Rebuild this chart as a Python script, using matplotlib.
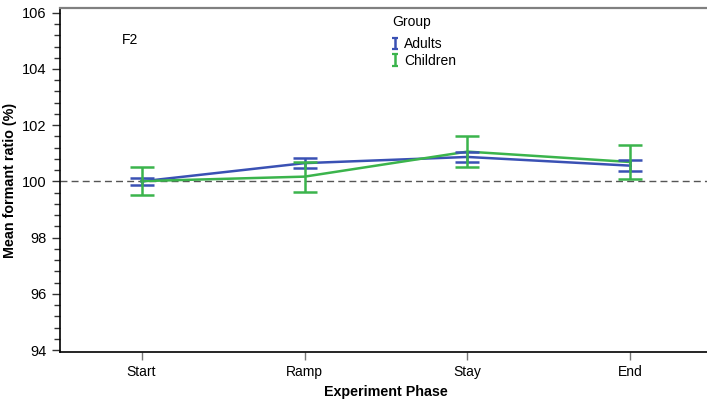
import matplotlib.pyplot as plt
import numpy as np
from matplotlib.ticker import MultipleLocator
from matplotlib.legend_handler import HandlerErrorbar

plt.rcParams['font.family'] = ['Liberation Sans', 'DejaVu Sans']

phases = ['Start', 'Ramp', 'Stay', 'End']
adults_mean = [100.00, 100.65, 100.87, 100.56]
adults_lo = [99.88, 100.48, 100.70, 100.37]
adults_hi = [100.13, 100.83, 101.05, 100.76]
children_mean = [100.01, 100.17, 101.06, 100.69]
children_lo = [99.50, 99.64, 100.51, 100.09]
children_hi = [100.52, 100.70, 101.61, 101.29]

blue = '#3a51b4'
green = '#3bb44c'

fig = plt.figure(figsize=(7.07, 3.99), dpi=100)
ax = fig.add_axes([60 / 707, 47 / 399, 652 / 707, 344 / 399])

x = range(len(phases))

def draw(mean, lo, hi, color, label):
    yerr = [[m - l for m, l in zip(mean, lo)], [h - m for m, h in zip(mean, hi)]]
    ax.plot(x, mean, color=color, lw=1.8, zorder=3)
    ax.errorbar(x, mean, yerr=yerr, fmt='none', ecolor=color, elinewidth=1.8,
                capsize=8.5, capthick=1.8, zorder=4)
    # small proxy with short caps for the legend key
    return ax.errorbar([np.nan], [np.nan], yerr=[0.1], fmt='none', ecolor=color,
                       elinewidth=1.8, capsize=2.2, capthick=1.6, label=label)

ax.axhline(100, color='#555555', lw=1.0, ls=(0, (5, 3)), zorder=2)
h1 = draw(adults_mean, adults_lo, adults_hi, blue, 'Adults')
h2 = draw(children_mean, children_lo, children_hi, green, 'Children')

ax.set_xlim(-0.5, 3.5)
ax.set_ylim(93.93, 106.17)
ax.set_xticks(list(x))
ax.set_xticklabels(phases, fontsize=10)
ax.set_yticks(range(94, 107, 2))
ax.yaxis.set_minor_locator(MultipleLocator(0.4))
ax.tick_params(axis='y', which='major', length=6, width=1, labelsize=10.5, color='#333333')
ax.tick_params(axis='y', which='minor', length=4, width=1, color='#333333')
ax.tick_params(axis='x', length=6, width=1, color='#777777', labelsize=10)

ax.spines['top'].set_color('#808080')
ax.spines['top'].set_linewidth(1.6)
ax.spines['right'].set_visible(False)
ax.spines['left'].set_linewidth(1.2)
ax.spines['bottom'].set_linewidth(1.2)

ax.set_xlabel('Experiment Phase', fontsize=10.3, fontweight='bold', labelpad=4)
ax.set_ylabel('Mean formant ratio (%)', fontsize=10.3, fontweight='bold', labelpad=4)

ax.text(0.095, 0.895, 'F2', transform=ax.transAxes, fontsize=10)

leg = ax.legend(handles=[h1, h2], title='Group', loc='upper left',
                bbox_to_anchor=(0.494, 1.008), frameon=False, fontsize=10,
                title_fontsize=10, handlelength=0.45, handletextpad=0.45,
                labelspacing=0.2, borderpad=0.2,
                handler_map={type(h1): HandlerErrorbar(yerr_size=0.42)})
leg._legend_box.align = 'left'
leg._legend_box.sep = 6

fig.savefig('out.png', dpi=100)
